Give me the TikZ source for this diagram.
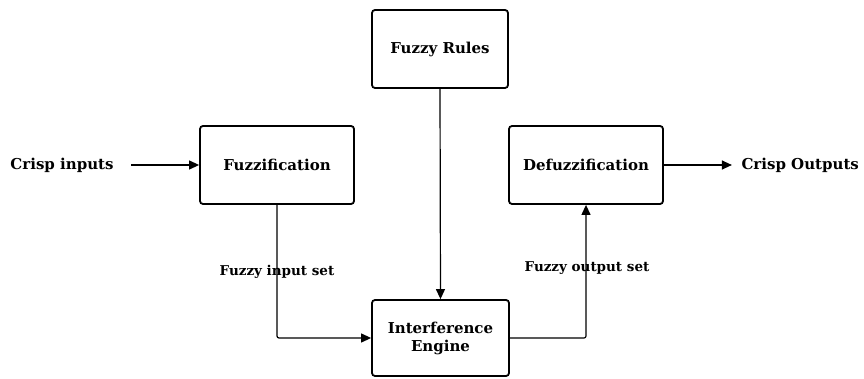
\documentclass[tikz,border=0pt]{standalone}
\usepackage{fontspec}
\setmainfont{DejaVu Serif}
\usetikzlibrary{arrows.meta}
\begin{document}
\begin{tikzpicture}[x=1pt,y=-1pt,
  blk/.style={draw, line width=1.8pt, rounded corners=3pt, font=\bfseries\fontsize{15}{18}\selectfont, align=center},
  lbl/.style={font=\bfseries\fontsize{15}{18}\selectfont},
  small/.style={font=\bfseries\fontsize{13.5}{16}\selectfont},
  conn/.style={line width=1.2pt, -{Triangle[length=10pt,width=9pt]}}]
\useasboundingbox (0,0) rectangle (864,379);
\node[blk, minimum width=136pt, minimum height=78pt] (rules) at (440,49) {Fuzzy Rules};
\node[blk, minimum width=154pt, minimum height=78pt] (fuzz) at (277,165) {Fuzzification};
\node[blk, minimum width=154pt, minimum height=78pt] (defuzz) at (586,165) {Defuzzification};
\node[blk, minimum width=137pt, minimum height=76pt] (eng) at (440.5,338) {Interference\\Engine};
\node[lbl] (cin) at (62,165) {Crisp inputs};
\node[lbl, anchor=west] (cout) at (738,165) {Crisp Outputs};
\coordinate (a1) at (277,338);
\coordinate (a2) at (586,338);
\draw[conn] (cin.east) ++(14,0) -- (fuzz.west);
\draw[conn] (defuzz.east) -- ++(68,0);
\draw[conn] (rules.south) -- (eng.north);
\draw[conn, rounded corners=2pt] (fuzz.south) -- (a1) -- (eng.west);
\draw[conn, rounded corners=2pt] (eng.east) -- (a2) -- (defuzz.south);
\node[small] (fin) at (277,272) {Fuzzy input set};
\node[small] (fout) at (587,268) {Fuzzy output set};
\end{tikzpicture}
\end{document}
